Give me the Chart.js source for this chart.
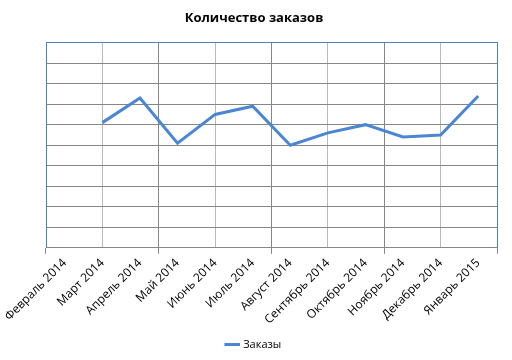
<!DOCTYPE html>
<html>
<head>
<meta charset="utf-8">
<script src="https://cdn.jsdelivr.net/npm/chart.js@4/dist/chart.umd.min.js"></script>
<style>
  html, body { margin: 0; padding: 0; background: #fff; }
  #wrap { width: 512px; height: 360px; }
</style>
</head>
<body>
<div id="wrap"><canvas id="c"></canvas></div>
<script>
const months = ['Февраль 2014', 'Март 2014', 'Апрель 2014', 'Май 2014', 'Июнь 2014', 'Июль 2014',
  'Август 2014', 'Сентябрь 2014', 'Октябрь 2014', 'Ноябрь 2014', 'Декабрь 2014', 'Январь 2015'];
const orders = [null, 61, 73, 51, 65, 69, 50, 56, 60, 54, 55, 74];
const yMin = 0, yMax = 100, yStep = 10;

const blue = '#4a86d4';
const frame = '#4f81bd';
const gridDark = '#868686';
const gridLight = '#b9b9b9';

new Chart(document.getElementById('c'), {
  type: 'line',
  data: {
    labels: months,
    datasets: [{
      label: 'Заказы',
      data: orders,
      borderColor: blue,
      backgroundColor: blue,
      borderWidth: 3,
      pointRadius: 0,
      tension: 0,
      spanGaps: false,
    }],
  },
  options: {
    responsive: true,
    maintainAspectRatio: false,
    animation: false,
    layout: { padding: { left: 0, right: 4, top: 4, bottom: 0 } },
    plugins: {
      title: {
        display: true,
        text: 'Количество заказов',
        color: '#000',
        font: { family: 'Open Sans', size: 13, weight: 'bold' },
        padding: { top: 6, bottom: 17 },
      },
      legend: {
        position: 'bottom',
        labels: {
          usePointStyle: true,
          pointStyle: 'line',
          boxWidth: 27,
          color: '#000',
          font: { family: 'Open Sans', size: 11 },
        },
      },
      tooltip: { enabled: false },
    },
    scales: {
      x: {
        type: 'category',
        offset: true,
        grid: {
          offset: true,
          tickLength: 6,
          color: 'rgba(0,0,0,0)',
          tickColor: c => (c.index === undefined || c.index % 3 === 0) ? gridDark : 'rgba(0,0,0,0)',
        },
        border: { color: gridDark },
        ticks: {
          color: '#000',
          minRotation: 45,
          maxRotation: 45,
          autoSkip: false,
          padding: 2,
          font: { family: 'Open Sans', size: 12 },
        },
      },
      xg: {
        type: 'linear',
        position: 'top',
        min: 0,
        max: 12,
        grid: {
          drawTicks: false,
          color: c => (c.tick && c.tick.value % 3 === 0) ? gridDark : gridLight,
        },
        border: { color: frame },
        ticks: { display: false, stepSize: 1.5 },
      },
      y: {
        min: yMin,
        max: yMax,
        afterFit: s => { s.width = 46; },
        grid: { drawTicks: false, color: gridDark },
        border: { color: frame },
        ticks: { display: false, stepSize: yStep },
      },
      y2: {
        position: 'right',
        min: yMin,
        max: yMax,
        afterFit: s => { s.width = 11; },
        grid: { display: false },
        border: { color: frame },
        ticks: { display: false },
      },
    },
  },
});
</script>
</body>
</html>
